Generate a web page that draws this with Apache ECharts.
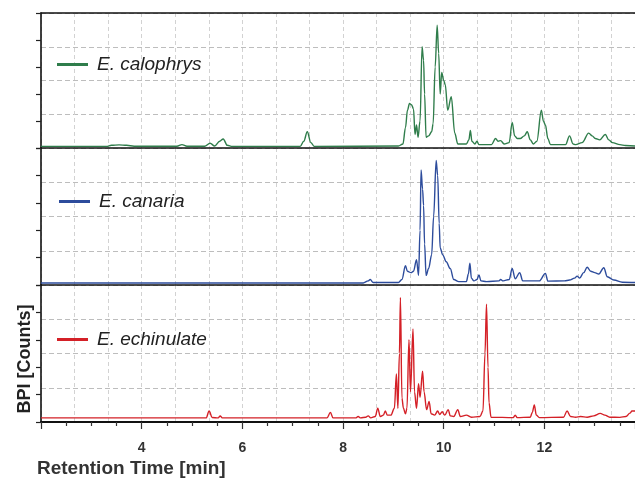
<!DOCTYPE html>
<html>
<head>
<meta charset="utf-8">
<script src="https://cdn.jsdelivr.net/npm/echarts@6/dist/echarts.min.js"></script>
<style>html,body{margin:0;padding:0;background:#fff}#c{width:635px;height:481px}</style>
</head>
<body>
<div id="c"></div>
<script>
// ---- data (retention time [min], relative BPI %) ----
const seriesNames = ['E. calophrys', 'E. canaria', 'E. echinulate'];
const xTickLabels = ['4', '6', '8', '10', '12'];
const calophrys = [[2.0,1.2],[3.3,1.2],[3.4,2],[3.55,2.3],[3.7,2],[3.85,1.3],[4.7,1.3],[4.8,2.5],[4.9,1.3],[5.25,1.3],[5.36,3.5],[5.45,1.5],[5.55,5],[5.62,6.7],[5.7,2],[5.8,1.2],[7.15,1.2],[7.22,5],[7.29,12],[7.36,4],[7.43,1.2],[9.1,1.5],[9.19,3],[9.24,15],[9.28,28],[9.32,33],[9.36,32],[9.4,29],[9.43,10],[9.46,17],[9.49,8],[9.53,20],[9.57,75],[9.6,65],[9.62,40],[9.65,8],[9.7,9],[9.76,12],[9.79,18],[9.83,60],[9.87,91],[9.9,70],[9.93,40],[9.96,56],[10.0,50],[10.03,47],[10.08,28],[10.15,38],[10.22,11],[10.28,3],[10.45,3],[10.5,6],[10.53,13],[10.56,5],[10.62,3],[10.66,5],[10.7,2.5],[10.95,2.5],[11.03,7],[11.08,5],[11.13,5.5],[11.2,3],[11.3,4],[11.36,19],[11.41,9],[11.46,7],[11.52,7],[11.6,9],[11.66,12],[11.72,6],[11.78,3],[11.85,5],[11.94,28],[11.98,20],[12.02,17],[12.07,7],[12.12,2.5],[12.42,2.5],[12.5,9],[12.57,3],[12.62,2.5],[12.75,4],[12.88,11],[12.95,9],[13.01,7],[13.1,6],[13.21,10],[13.28,6],[13.35,4],[13.5,2.5],[13.61,1.8],[13.8,1.5]];
const canaria = [[2.0,1.5],[8.4,1.5],[8.5,3],[8.54,4],[8.6,1.8],[9.1,1.8],[9.17,4],[9.24,14],[9.28,10],[9.35,9],[9.4,10],[9.46,18.5],[9.5,7],[9.53,40],[9.55,84],[9.58,70],[9.6,58],[9.62,30],[9.65,7],[9.7,12],[9.76,22],[9.8,50],[9.85,91],[9.88,80],[9.91,45],[9.93,27],[9.98,22],[10.05,17],[10.13,12],[10.2,4],[10.3,2.5],[10.45,2.5],[10.49,8],[10.52,16],[10.55,5],[10.6,3],[10.66,4],[10.7,7.3],[10.74,3],[10.85,2.5],[11.1,3],[11.13,4],[11.18,3],[11.3,4],[11.36,12],[11.42,4.5],[11.51,9],[11.57,3],[11.9,3],[12.02,8.5],[12.07,2.8],[12.4,3],[12.5,3.6],[12.6,5],[12.65,6.5],[12.7,5],[12.78,9],[12.85,13],[12.92,10],[13.0,9],[13.08,8],[13.18,12.6],[13.25,6],[13.38,3.6],[13.55,2],[13.8,1.8]];
const echinulate = [[2.0,3],[5.28,3],[5.34,8],[5.4,3.3],[5.52,3],[5.56,4.4],[5.6,3],[7.68,3],[7.75,7],[7.8,3],[8.25,3],[8.3,4],[8.35,3],[8.45,3.5],[8.5,4.5],[8.55,3],[8.64,4],[8.69,10],[8.74,4],[8.8,5],[8.84,8],[8.88,5],[8.95,5],[9.02,10],[9.06,35],[9.09,10],[9.12,50],[9.14,91],[9.17,17.5],[9.2,10],[9.24,6],[9.27,10],[9.31,60],[9.34,22],[9.39,68],[9.42,22],[9.46,10],[9.5,28],[9.53,18],[9.58,37],[9.61,22],[9.66,9],[9.71,15],[9.75,6],[9.82,5],[9.88,8],[9.92,5.5],[9.97,7.5],[10.02,5],[10.09,9],[10.13,4.5],[10.2,4],[10.28,9],[10.33,4],[10.45,5],[10.55,3.5],[10.72,4],[10.78,8],[10.82,50],[10.85,86],[10.88,40],[10.9,14],[10.94,3.5],[11.38,3.2],[11.42,5],[11.46,3.2],[11.72,3.5],[11.76,7],[11.8,12.4],[11.84,5],[11.9,3.2],[12.38,3.5],[12.45,8],[12.52,4],[12.62,3.5],[12.72,4],[12.85,3.5],[12.98,4.5],[13.11,6.3],[13.2,5],[13.3,3.5],[13.5,3.4],[13.62,4],[13.7,6.5],[13.74,8],[13.8,8]];
const xMin = 2, xMax = 13.8;

// ---- styling / layout ----
const colors = ['#2f7d4b', '#2d4c9c', '#d42027'];
const dataSets = [calophrys, canaria, echinulate];
const grids = [
  {left: 41, right: 0, top: 13, height: 135},
  {left: 41, right: 0, top: 148, height: 137},
  {left: 41, right: 0, top: 285, height: 137}
];
const FONT = '"Liberation Sans", Arial, sans-serif';
const xAxes = [], yAxes = [], series = [], legends = [];
const legendPos = [{left: 57, top: 55}, {left: 59, top: 192}, {left: 57, top: 330}];

grids.forEach((g, i) => {
  const isBottom = i === 2;
  xAxes.push({
    type: 'value', gridIndex: i, min: xMin, max: xMax, interval: 2, position: 'bottom',
    axisLine: {show: true, onZero: false, lineStyle: {color: '#111', width: isBottom ? 2 : 1.6}},
    axisTick: {show: isBottom, length: 7, lineStyle: {color: '#333', width: 1.2}},
    minorTick: {show: isBottom, splitNumber: 4, length: 4, lineStyle: {color: '#333', width: 1.2}},
    axisLabel: {
      show: isBottom, margin: 19, showMinLabel: false, showMaxLabel: false,
      fontFamily: FONT, fontSize: 14, fontWeight: 'bold', color: '#333',
      formatter: v => xTickLabels.indexOf(String(v)) >= 0 ? String(v) : ''
    },
    splitLine: {show: false}
  });
  xAxes.push({
    type: 'value', gridIndex: i, min: xMin, max: xMax, interval: 2 / 3, position: 'top',
    axisLine: {show: i === 0, onZero: false, lineStyle: {color: '#111', width: 1.6}},
    axisTick: {show: false}, axisLabel: {show: false},
    splitLine: {show: true, lineStyle: {color: '#d2d2d2', type: [4, 3], width: 1}}
  });
  yAxes.push({
    type: 'value', gridIndex: i, min: 0, max: 100, interval: 20, position: 'left',
    axisLine: {show: true, onZero: false, lineStyle: {color: '#111', width: 1.6}},
    axisTick: {show: true, length: 5, lineStyle: {color: '#222', width: 1.2}},
    axisLabel: {show: false}, splitLine: {show: false}
  });
  yAxes.push({
    type: 'value', gridIndex: i, min: 0, max: 100, interval: 25, position: 'right',
    axisLine: {show: false}, axisTick: {show: false}, axisLabel: {show: false},
    splitLine: {show: true, lineStyle: {color: '#bdbdbd', type: [5, 3], width: 1}}
  });
  series.push({
    name: seriesNames[i], type: 'line', xAxisIndex: i * 2, yAxisIndex: i * 2,
    data: dataSets[i], symbol: 'none', smooth: 0.35, smoothMonotone: 'x',
    lineStyle: {color: colors[i], width: 1.4}, itemStyle: {color: colors[i]},
    animation: false, z: 3
  });
  legends.push({
    data: [seriesNames[i]], left: legendPos[i].left, top: legendPos[i].top,
    orient: 'horizontal', padding: 0, icon: 'rect', itemWidth: 31, itemHeight: 3,
    selectedMode: false,
    textStyle: {fontFamily: FONT, fontSize: 19, fontStyle: 'italic', color: '#222', padding: [0, 0, 0, 4]}
  });
});

const chart = echarts.init(document.getElementById('c'), null, {renderer: 'canvas'});
chart.setOption({
  backgroundColor: '#fff',
  animation: false,
  grid: grids,
  xAxis: xAxes,
  yAxis: yAxes,
  legend: legends,
  series: series,
  graphic: [
    {type: 'text', left: 37, top: 459, style: {text: 'Retention Time [min]', font: 'bold 19px ' + FONT, fill: '#333'}},
    {type: 'text', x: 25, y: 359, rotation: Math.PI / 2,
      style: {text: 'BPI [Counts]', font: 'bold 18px ' + FONT, fill: '#222', align: 'center', verticalAlign: 'middle'}}
  ]
});
</script>
</body>
</html>
